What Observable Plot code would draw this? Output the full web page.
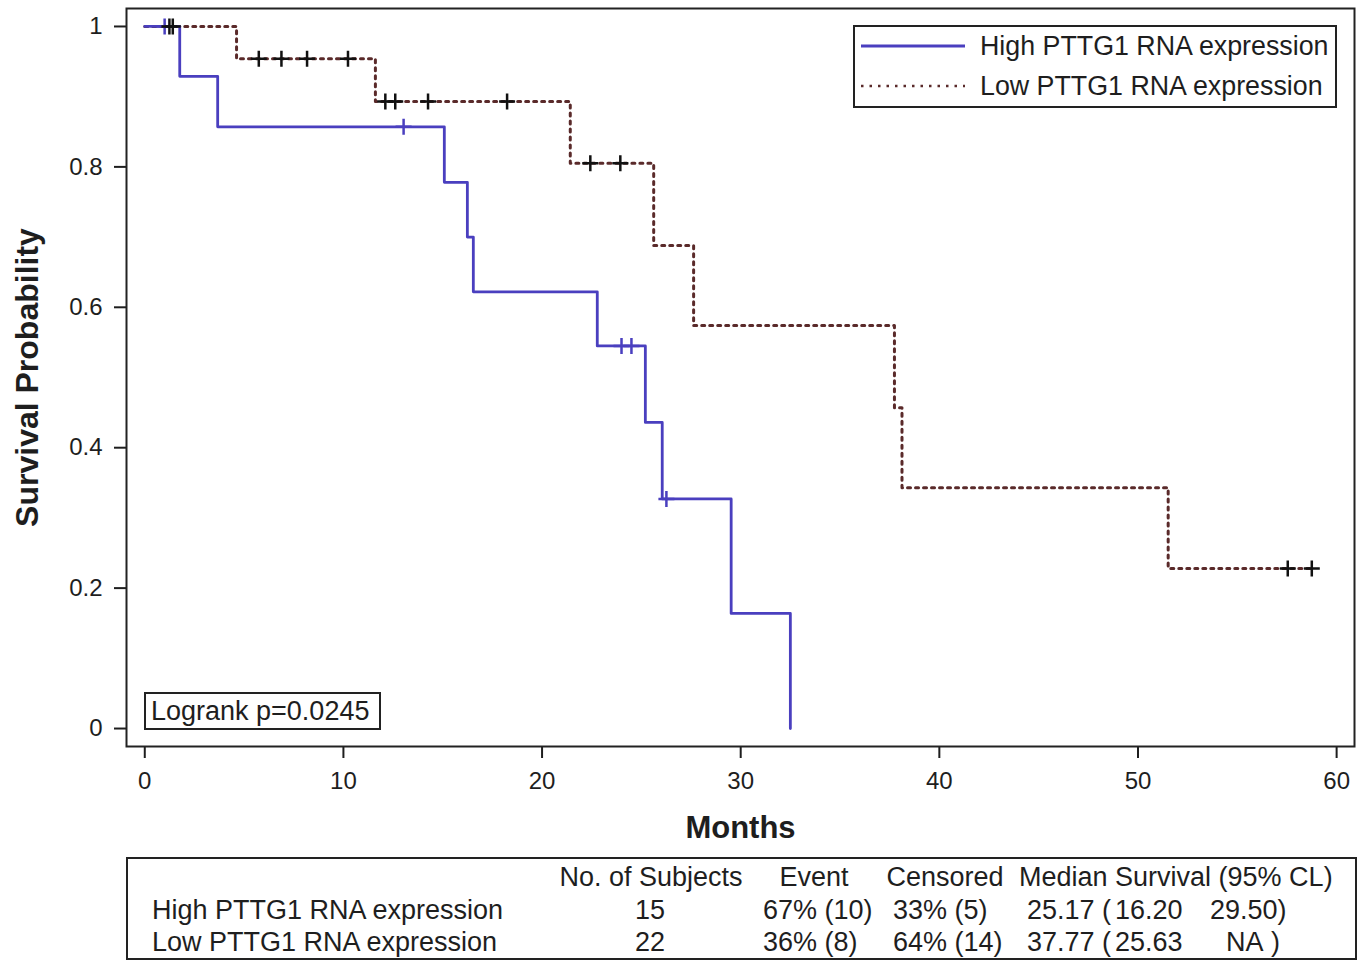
<!DOCTYPE html>
<html><head><meta charset="utf-8">
<script src="https://cdn.jsdelivr.net/npm/d3@7"></script>
<script src="https://cdn.jsdelivr.net/npm/@observablehq/plot@0.6"></script>
<style>
body{margin:0;background:#fff;font-family:"Liberation Sans",Arial,sans-serif;color:#1e1e1e}
#wrap{position:relative;width:1368px;height:960px;overflow:hidden;background:#fff}
#wrap svg{position:absolute;left:0;top:0}
.box{position:absolute;border:2px solid #222;box-sizing:border-box;background:#fff}
.t{position:absolute;font-size:27px;white-space:pre;line-height:26px;height:26px}
</style></head><body><div id="wrap"></div>
<script>
// ---- data ----
const groups = ["High PTTG1 RNA expression", "Low PTTG1 RNA expression"];
const highTimes = [0, 1.76, 3.67, 15.08, 16.24, 16.54, 22.78, 25.2, 26.05, 29.52, 32.5];
const highSurv  = [1, 0.929, 0.857, 0.778, 0.700, 0.622, 0.545, 0.436, 0.327, 0.164, 0];
const highCensorTimes = [1.0, 13.03, 24.0, 24.5, 26.26];
const highCensorSurv  = [1, 0.857, 0.545, 0.545, 0.327];
const lowTimes = [0, 4.62, 11.61, 21.42, 25.62, 27.63, 37.74, 38.12, 51.52, 58.75];
const lowSurv  = [1, 0.954, 0.893, 0.805, 0.688, 0.574, 0.457, 0.343, 0.228, 0.228];
const lowCensorTimes = [1.24, 1.41, 5.74, 6.88, 8.17, 10.23, 12.11, 12.61, 14.26, 18.24, 22.43, 23.94, 57.54, 58.75];
const lowCensorSurv  = [1, 1, 0.954, 0.954, 0.954, 0.954, 0.893, 0.893, 0.893, 0.893, 0.805, 0.805, 0.228, 0.228];
const xTicks = [0, 10, 20, 30, 40, 50, 60];
const yTicks = [0, 0.2, 0.4, 0.6, 0.8, 1];
const xLabel = "Months";
const yLabel = "Survival Probability";
const pValueLabel = "Logrank p=0.0245";
const tableHeader = ["No. of Subjects", "Event", "Censored", "Median Survival (95% CL)"];
const subjects = ["15", "22"];
const events = ["67% (10)", "36% (8)"];
const censoredPct = ["33% (5)", "64% (14)"];
const medianEst = ["25.17", "37.77"];
const lowerCL = ["16.20", "25.63"];
const upperCL = ["29.50)", "NA"];

const highColor = "#4a3fbf";
const lowColor = "#5a2a2a";

const highData = highTimes.map((t, i) => ({t, s: highSurv[i], g: groups[0]}));
const lowData = lowTimes.map((t, i) => ({t, s: lowSurv[i], g: groups[1]}));
const highCens = highCensorTimes.map((t, i) => ({t, s: highCensorSurv[i]}));
const lowCens = lowCensorTimes.map((t, i) => ({t, s: lowCensorSurv[i]}));

const plus = {draw(ctx, size) {
  const r = Math.sqrt(size / Math.PI);
  ctx.moveTo(-r, 0); ctx.lineTo(r, 0);
  ctx.moveTo(0, -r); ctx.lineTo(0, r);
}};

const chart = Plot.plot({
  width: 1368, height: 850,
  marginLeft: 126, marginRight: 14, marginTop: 8, marginBottom: 104,
  style: {fontFamily: "Liberation Sans, Arial, sans-serif", fontSize: "24px", color: "#1e1e1e", background: "#fff"},
  x: {domain: [-0.92, 60.9]},
  y: {domain: [-0.0256, 1.0256]},
  marks: [
    Plot.axisX({ticks: xTicks, tickFormat: d => String(d), tickSize: 12, tickPadding: 13, strokeWidth: 2, label: null, fontSize: 24}),
    Plot.axisY({ticks: yTicks, tickFormat: d => String(d), tickSize: 12, tickPadding: 12, strokeWidth: 2, label: null, fontSize: 24}),
    Plot.frame({stroke: "#222", strokeWidth: 2}),
    Plot.line(lowData, {x: "t", y: "s", curve: "step-after", stroke: lowColor, strokeWidth: 3, strokeDasharray: "3,5"}),
    Plot.line(highData, {x: "t", y: "s", curve: "step-after", stroke: highColor, strokeWidth: 2.8}),
    Plot.dot(highCens, {x: "t", y: "s", symbol: plus, r: 8, stroke: highColor, strokeWidth: 2.5, fill: "none"}),
    Plot.dot(lowCens, {x: "t", y: "s", symbol: plus, r: 8, stroke: "#111", strokeWidth: 2.5, fill: "none"}),
    Plot.text([yLabel], {frameAnchor: "left", textAnchor: "middle", lineAnchor: "middle", dx: -99, rotate: -90, fontWeight: "bold", fontSize: 32, fill: "#1e1e1e"}),
    Plot.text([xLabel], {frameAnchor: "bottom", lineAnchor: "middle", dy: 82, fontWeight: "bold", fontSize: 31, fill: "#1e1e1e"})
  ]
});

const wrap = document.getElementById("wrap");
wrap.appendChild(chart);

function box(l, t, w, h) {
  const d = document.createElement("div");
  d.className = "box";
  Object.assign(d.style, {left: l + "px", top: t + "px", width: w + "px", height: h + "px"});
  wrap.appendChild(d);
  return d;
}
function txt(s, x, yc, anchor = "start", size = 27) {
  const d = document.createElement("div");
  d.className = "t";
  d.textContent = s;
  d.style.fontSize = size + "px";
  d.style.top = (yc - 13) + "px";
  d.style.left = x + "px";
  if (anchor === "middle") d.style.transform = "translateX(-50%)";
  if (anchor === "end") d.style.transform = "translateX(-100%)";
  wrap.appendChild(d);
  return d;
}

// legend (inside plot area, top right)
box(853, 25, 484, 83);
const ns = "http://www.w3.org/2000/svg";
const lg = document.createElementNS(ns, "svg");
lg.setAttribute("width", 1368); lg.setAttribute("height", 960);
lg.style.position = "absolute"; lg.style.left = "0"; lg.style.top = "0"; lg.style.pointerEvents = "none";
[[46, highColor, null, 2.8], [86, lowColor, "2.5,6", 2.5]].forEach(([y, c, da, w]) => {
  const ln = document.createElementNS(ns, "line");
  ln.setAttribute("x1", 861); ln.setAttribute("x2", 965);
  ln.setAttribute("y1", y); ln.setAttribute("y2", y);
  ln.setAttribute("stroke", c); ln.setAttribute("stroke-width", w);
  if (da) ln.setAttribute("stroke-dasharray", da);
  lg.appendChild(ln);
});
wrap.appendChild(lg);
txt(groups[0], 980, 46, "start", 26.8);
txt(groups[1], 980, 86, "start", 26.8);

// logrank box
box(144, 692, 237, 38);
txt(pValueLabel, 151, 711);

// summary table
box(126, 857, 1231, 103);
txt(tableHeader[0], 651, 877, "middle");
txt(tableHeader[1], 814, 877, "middle");
txt(tableHeader[2], 945, 877, "middle");
txt(tableHeader[3], 1019, 877);
[910, 942].forEach((yc, i) => {
  txt(groups[i], 152, yc);
  txt(subjects[i], 650, yc, "middle");
  txt(events[i], 763, yc);
  txt(censoredPct[i], 893, yc);
  txt(medianEst[i], 1027, yc);
  txt("(", 1102, yc);
  txt(lowerCL[i], 1115, yc);
  if (i === 0) txt(upperCL[i], 1210, yc);
  else { txt(upperCL[i], 1226, yc); txt(")", 1271, yc); }
});
</script>
</body></html>
